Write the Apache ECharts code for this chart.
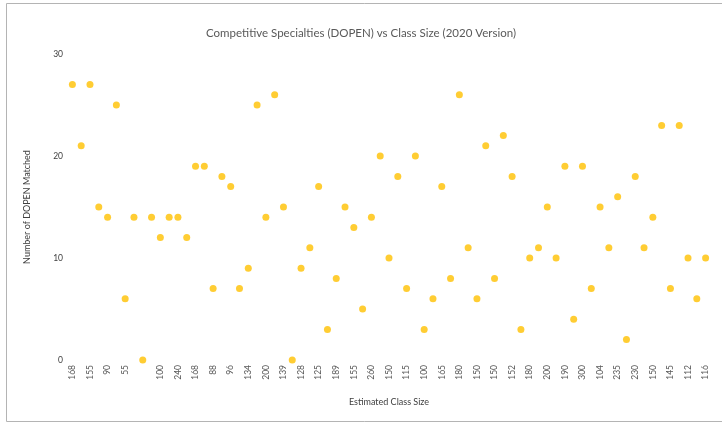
<!DOCTYPE html>
<html>
<head>
<meta charset="utf-8">
<script src="https://cdn.jsdelivr.net/npm/echarts@6/dist/echarts.min.js"></script>
<style>
  html, body { margin: 0; padding: 0; background: #fff; }
  #main { width: 722px; height: 423px; }
</style>
</head>
<body>
<div id="main"></div>
<script>
// class sizes (only every other label is shown on the axis, '' where unreadable)
var classSize = ['168','','155','','90','','55','','','','100','','240','','168','','88','','96','','134','','200','',
                 '139','','128','','125','','189','','155','','260','','150','','115','','100','','165','','180','',
                 '150','','150','','152','','180','','200','','190','','300','','104','','235','','230','','150','',
                 '145','','112','','116'];
var dopenMatched = [27,21,27,15,14,25,6,14,0,14,12,14,14,12,19,19,7,18,17,7,9,25,14,26,
                    15,0,9,11,17,3,8,15,13,5,14,20,10,18,7,20,3,6,17,8,26,11,
                    6,21,8,22,18,3,10,11,15,10,19,4,19,7,15,11,16,2,18,11,14,23,
                    7,23,10,6,10];
var yTicks = [0, 10, 20, 30];

var myChart = echarts.init(document.getElementById('main'));
var txt = '#595959';
var option = {
    backgroundColor: '#fff',
    animation: false,
    title: {
        text: 'Competitive Specialties (DOPEN) vs Class Size (2020 Version)',
        left: 'center',
        top: 22,
        textStyle: { fontFamily: 'Lato', fontSize: 11.5, fontWeight: 'normal', color: '#595959' }
    },
    graphic: [
        {
            type: 'rect',
            shape: { x: 6.5, y: 3.5, width: 720, height: 418 },
            style: { fill: 'none', stroke: '#b4b4b4', lineWidth: 1 },
            z: -1
        }
    ],
    grid: { left: 68, right: 12, top: 54, bottom: 63 },
    xAxis: {
        type: 'category',
        data: classSize,
        boundaryGap: true,
        name: 'Estimated Class Size',
        nameLocation: 'middle',
        nameGap: 38,
        nameTextStyle: { fontFamily: 'Lato', fontSize: 9, color: '#404040' },
        axisLine: { show: false },
        axisTick: { show: false },
        axisLabel: {
            interval: 0,
            rotate: 90,
            margin: 5,
            fontFamily: 'Lato',
            fontSize: 8.5,
            color: txt
        },
        splitLine: { show: false }
    },
    yAxis: {
        type: 'value',
        min: yTicks[0],
        max: yTicks[yTicks.length - 1],
        interval: 10,
        name: 'Number of DOPEN Matched',
        nameLocation: 'middle',
        nameGap: 36,
        nameTextStyle: { fontFamily: 'Lato', fontSize: 9, color: '#404040' },
        axisLine: { show: false },
        axisTick: { show: false },
        axisLabel: { fontFamily: 'Lato', fontSize: 8.5, color: '#404040', margin: 5 },
        splitLine: { show: false }
    },
    series: [
        {
            name: 'DOPEN Matched',
            type: 'scatter',
            data: dopenMatched,
            symbol: 'circle',
            symbolSize: 7,
            itemStyle: { color: '#FFC000' }
        }
    ]
};
myChart.setOption(option);
</script>
</body>
</html>
